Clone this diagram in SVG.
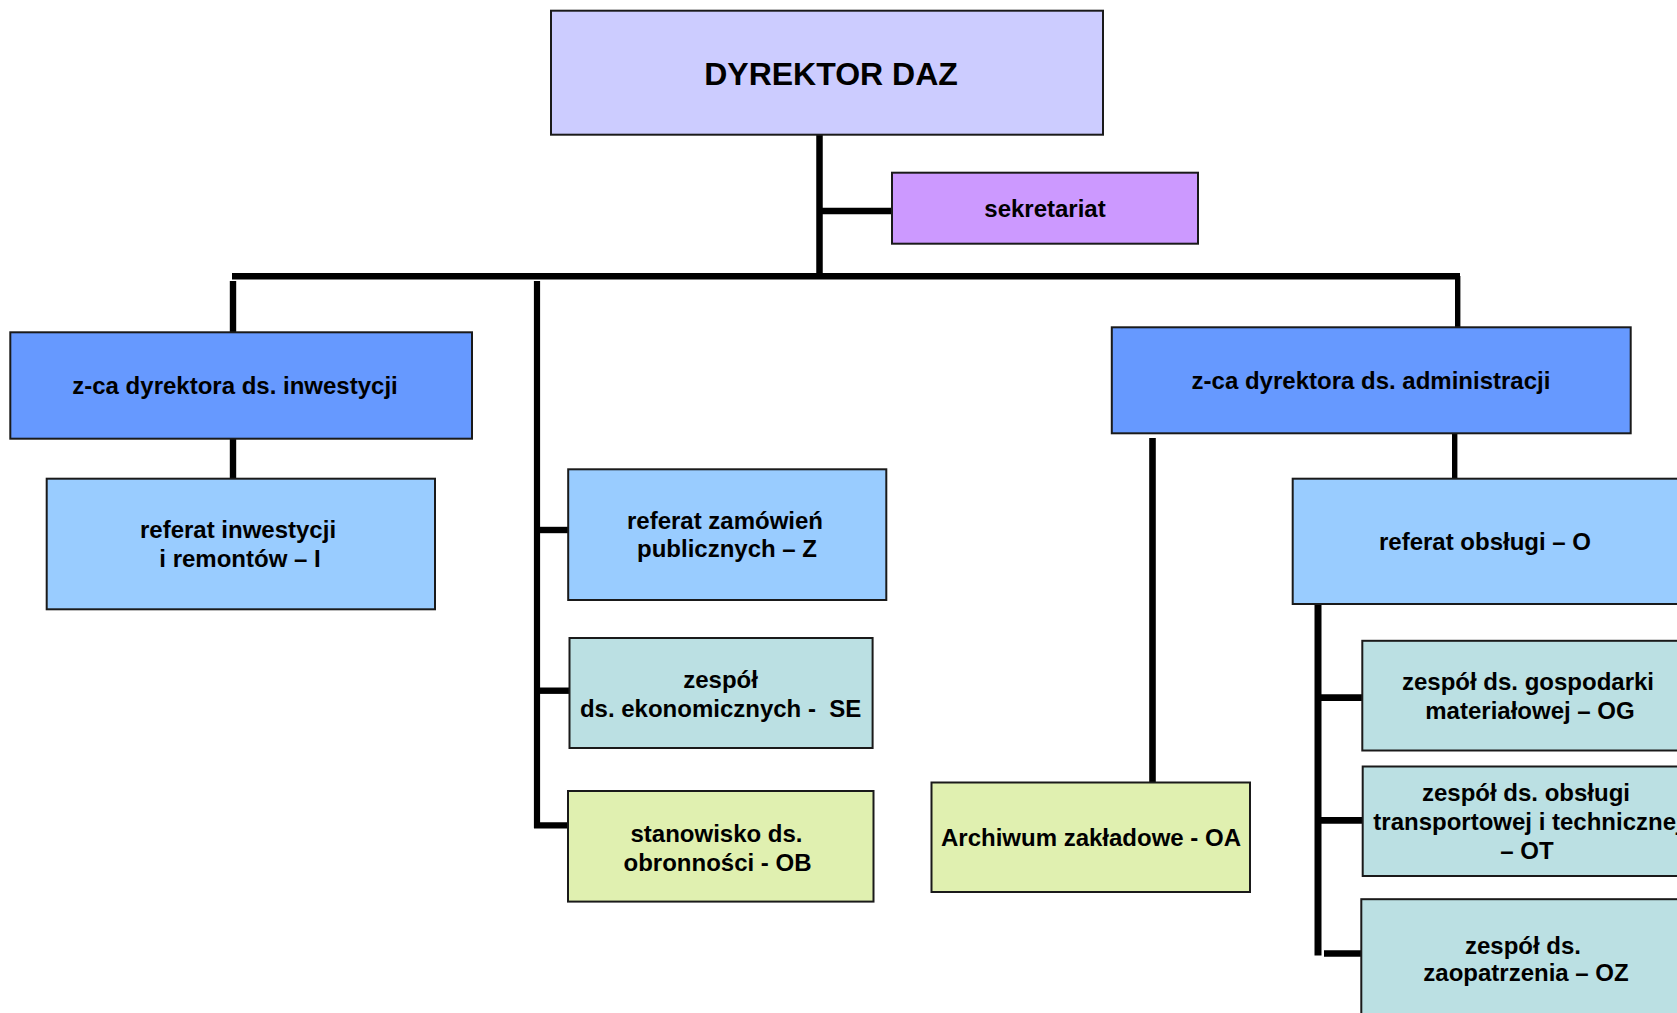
<svg xmlns="http://www.w3.org/2000/svg" width="1677" height="1013" viewBox="0 0 1677 1013">
<style>
.box{stroke:#1a1a1a;stroke-width:2}
.t{font-family:"Liberation Sans",Arial,sans-serif;font-weight:bold;font-size:24px;fill:#000;text-anchor:middle}
.big{font-size:32px}
.pre{white-space:pre}
.c{stroke:#000;fill:none;stroke-linecap:butt}
.dir{fill:#CCCCFF}.sek{fill:#CC99FF}.zca{fill:#6699FF}.ref{fill:#99CCFF}.zes{fill:#BBE0E3}.sta{fill:#E0F0B0}
</style>
<rect width="1677" height="1013" fill="#fff"/>
<g id="connectors">
<line class="c" x1="819.5" y1="135" x2="819.5" y2="279" stroke-width="6.5"/>
<line class="c" x1="819.5" y1="211" x2="892" y2="211" stroke-width="6.5"/>
<line class="c" x1="232" y1="276.3" x2="1460" y2="276.3" stroke-width="6.6"/>
<line class="c" x1="1457.7" y1="276" x2="1457.7" y2="327" stroke-width="5.4"/>
<line class="c" x1="233" y1="281" x2="233" y2="332" stroke-width="6.4"/>
<line class="c" x1="537" y1="281" x2="537" y2="828" stroke-width="6.2"/>
<line class="c" x1="537" y1="530" x2="568" y2="530" stroke-width="6.4"/>
<line class="c" x1="537" y1="690.7" x2="569" y2="690.7" stroke-width="6.4"/>
<line class="c" x1="534" y1="825.3" x2="568" y2="825.3" stroke-width="6.2"/>
<line class="c" x1="233" y1="438.7" x2="233" y2="478.7" stroke-width="6.4"/>
<line class="c" x1="1152.5" y1="438" x2="1152.5" y2="782" stroke-width="6.6"/>
<line class="c" x1="1454.7" y1="434" x2="1454.7" y2="479" stroke-width="5.4"/>
<line class="c" x1="1318" y1="604.8" x2="1318" y2="955.4" stroke-width="7"/>
<line class="c" x1="1318" y1="697.7" x2="1362" y2="697.7" stroke-width="6.7"/>
<line class="c" x1="1318" y1="820.4" x2="1362" y2="820.4" stroke-width="6.7"/>
<line class="c" x1="1324" y1="953.5" x2="1361" y2="953.5" stroke-width="6.7"/>
</g>
<g id="dyrektor">
<rect class="box dir" x="551" y="10.7" width="552" height="124"/>
<text class="t big" x="831" y="84.5">DYREKTOR DAZ</text>
</g>
<g id="sekretariat">
<rect class="box sek" x="892" y="172.7" width="306" height="71"/>
<text class="t" x="1045" y="216.5">sekretariat</text>
</g>
<g id="zca-inwestycji">
<rect class="box zca" x="10.3" y="332.3" width="461.7" height="106.4"/>
<text class="t" x="235" y="394">z-ca dyrektora ds. inwestycji</text>
</g>
<g id="zca-administracji">
<rect class="box zca" x="1111.8" y="327.3" width="518.9" height="106"/>
<text class="t" x="1371" y="389">z-ca dyrektora ds. administracji</text>
</g>
<g id="referat-inwestycji">
<rect class="box ref" x="46.7" y="478.7" width="388.3" height="130.6"/>
<text class="t" x="238" y="538">referat inwestycji</text>
<text class="t" x="240" y="566.7">i remontów – I</text>
</g>
<g id="referat-zamowien">
<rect class="box ref" x="568.2" y="469.3" width="318.1" height="130.7"/>
<text class="t" x="725" y="528.5">referat zamówień</text>
<text class="t" x="727" y="557.3">publicznych – Z</text>
</g>
<g id="zespol-ekonomicznych">
<rect class="box zes" x="569.5" y="638" width="303.1" height="110"/>
<text class="t" x="720.6" y="687.7">zespół</text>
<text class="t pre" x="720.6" y="716.7">ds. ekonomicznych -  SE</text>
</g>
<g id="stanowisko-obronnosci">
<rect class="box sta" x="568" y="791" width="305.5" height="110.6"/>
<text class="t" x="716.5" y="842">stanowisko ds.</text>
<text class="t" x="717.5" y="871">obronności - OB</text>
</g>
<g id="archiwum">
<rect class="box sta" x="931.5" y="782.5" width="318.5" height="109.5"/>
<text class="t" x="1091" y="846">Archiwum zakładowe - OA</text>
</g>
<g id="referat-obslugi">
<rect class="box ref" x="1292.7" y="478.7" width="400" height="125.3"/>
<text class="t" x="1485" y="550">referat obsługi – O</text>
</g>
<g id="zespol-gospodarki">
<rect class="box zes" x="1362.3" y="640.8" width="330" height="109.7"/>
<text class="t" x="1528" y="689.6">zespół ds. gospodarki</text>
<text class="t" x="1530" y="718.6">materiałowej – OG</text>
</g>
<g id="zespol-transportowej">
<rect class="box zes" x="1362.7" y="766.5" width="330" height="109.5"/>
<text class="t" x="1526" y="800.7">zespół ds. obsługi</text>
<text class="t" x="1528" y="829.7">transportowej i technicznej</text>
<text class="t" x="1527" y="858.7">– OT</text>
</g>
<g id="zespol-zaopatrzenia">
<rect class="box zes" x="1361.3" y="899.2" width="330" height="125"/>
<text class="t" x="1523" y="953.5">zespół ds.</text>
<text class="t" x="1526" y="981">zaopatrzenia – OZ</text>
</g>
</svg>
